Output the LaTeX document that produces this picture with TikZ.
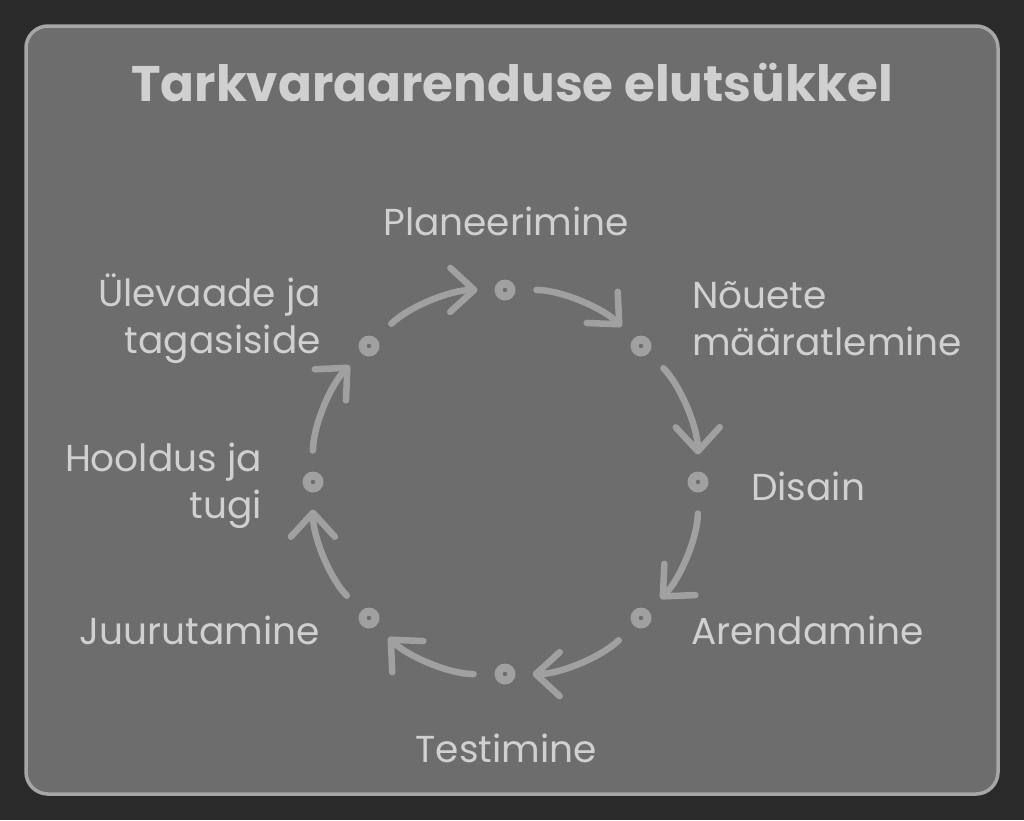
\documentclass[tikz,border=0pt]{standalone}
\usepackage{fontspec}
\setmainfont{Poppins}
\usetikzlibrary{arrows.meta}
\definecolor{bgdark}{HTML}{2A2A2A}
\definecolor{panel}{HTML}{6D6D6D}
\definecolor{panelborder}{HTML}{A6A6A6}
\definecolor{txt}{HTML}{D0D0D0}
\definecolor{arrowc}{HTML}{A0A0A0}
\tikzset{
  marker/.style={circle, fill=arrowc, minimum size=21pt, inner sep=0pt, outer sep=0pt,
    path picture={\fill[panel] (path picture bounding box.center) circle (2.2pt);}},
  lbl/.style={text=txt, font=\fontsize{37.5}{47}\selectfont, inner sep=0pt},
  arr/.style={draw=arrowc, line width=6.5pt, line cap=round, line join=round,
    -{Straight Barb[length=24pt,width=44pt,line width=6.5pt,round]},
    shorten <=21pt, shorten >=17pt, bend left=22.5, looseness=0.89},
}
\begin{document}
\begin{tikzpicture}[x=1pt,y=-1pt]
\useasboundingbox (0,0) rectangle (1024,820);
\fill[bgdark] (0,0) rectangle (1024,820);
\draw[panelborder, fill=panel, line width=3.5pt, rounded corners=22pt] (26,26) rectangle (998,794);
\node[text=txt, font=\fontsize{50}{56}\selectfont\bfseries, inner sep=0pt] (title) at (512,83) {Tarkvaraarenduse elutsükkel};
% markers
\node[marker] (n1) at (505,290) {};
\node[marker] (n2) at (641,346) {};
\node[marker] (n3) at (698,482) {};
\node[marker] (n4) at (641,618) {};
\node[marker] (n5) at (505,674) {};
\node[marker] (n6) at (369,618) {};
\node[marker] (n7) at (313,482) {};
\node[marker] (n8) at (369,346) {};
% arrows
\draw[arr] (n8) to (n1);
\draw[arr] (n1) to (n2);
\draw[arr] (n2) to (n3);
\draw[arr] (n3) to (n4);
\draw[arr] (n4) to (n5);
\draw[arr] (n5) to (n6);
\draw[arr] (n6) to (n7);
\draw[arr] (n7) to (n8);
% labels
\node[lbl] (l1) at (506,221) {Planeerimine};
\node[lbl, anchor=west, align=left] (l2) at (692,319) {Nõuete\\määratlemine};
\node[lbl, anchor=west] (l3) at (751,486) {Disain};
\node[lbl, anchor=west] (l4) at (691,630) {Arendamine};
\node[lbl] (l5) at (506,748) {Testimine};
\node[lbl, anchor=east] (l6) at (320,630) {Juurutamine};
\node[lbl, anchor=east, align=right] (l7) at (262,486) {Hooldus ja\\tugi};
\node[lbl, anchor=east, align=right] (l8) at (321,319) {Ülevaade ja\\tagasiside};
\end{tikzpicture}
\end{document}
